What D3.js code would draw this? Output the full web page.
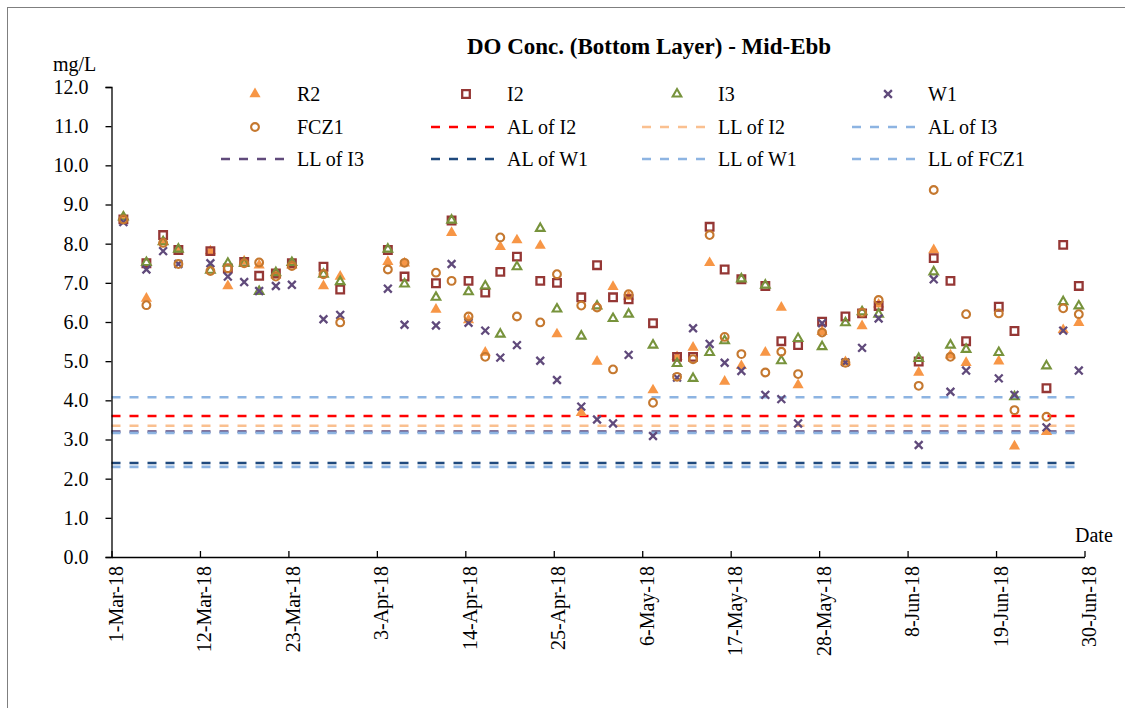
<!DOCTYPE html>
<html>
<head>
<meta charset="utf-8">
<script src="https://cdn.jsdelivr.net/npm/d3@7"></script>
<style>
  body { margin: 0; background: #fff; }
  svg { display: block; }
  text { font-family: "Liberation Serif", "Times New Roman", serif; fill: #000; }
</style>
</head>
<body>
<svg id="chart" width="1125" height="708"></svg>
<script>
// Sampling times (mid-ebb, bottom layer)
const sampleTimes = [
  "2018-03-02 11:30", "2018-03-05 08:10", "2018-03-07 10:05", "2018-03-09 07:40",
  "2018-03-13 07:10", "2018-03-15 11:15", "2018-03-17 12:00", "2018-03-19 08:40",
  "2018-03-21 10:35", "2018-03-23 10:20", "2018-03-27 08:40", "2018-03-29 10:35",
  "2018-04-04 08:50", "2018-04-06 10:35", "2018-04-10 08:25", "2018-04-12 07:00",
  "2018-04-14 09:35", "2018-04-16 11:30", "2018-04-18 08:25", "2018-04-20 10:05",
  "2018-04-23 07:40", "2018-04-25 09:35", "2018-04-28 10:05", "2018-04-30 09:10",
  "2018-05-02 08:50", "2018-05-04 07:25", "2018-05-07 08:10", "2018-05-10 07:55",
  "2018-05-12 07:40", "2018-05-14 09:10", "2018-05-16 06:00", "2018-05-18 07:55",
  "2018-05-21 07:25", "2018-05-23 07:10", "2018-05-25 09:10", "2018-05-28 08:50",
  "2018-05-31 06:30", "2018-06-02 08:10", "2018-06-04 09:35", "2018-06-09 09:10",
  "2018-06-11 06:00", "2018-06-13 07:55", "2018-06-15 06:40", "2018-06-19 08:10",
  "2018-06-21 07:00", "2018-06-25 06:30", "2018-06-27 08:25", "2018-06-29 07:00"
];

// DO concentration (mg/L) per station
const r2 = [8.68, 6.60, 8.05, 7.85, 7.81, 6.92, 7.55, 7.45, 7.20, 7.45, 6.92, 7.16,
  7.54, 7.50, 6.32, 8.28, 6.05, 5.22, 7.92, 8.09, 7.95, 5.69, 3.68, 4.99,
  6.90, 6.65, 4.26, 5.11, 5.35, 7.51, 4.48, 4.88, 5.22, 6.37, 4.39, 5.75,
  4.98, 5.90, 6.45, 4.71, 7.84, 5.15, 4.96, 5.00, 2.83, 3.20, 5.80, 5.98];
const i2 = [8.62, 7.50, 8.22, 7.84, 7.81, 7.37, 7.53, 7.18, 7.24, 7.50, 7.41, 6.83,
  7.84, 7.16, 6.99, 8.59, 7.05, 6.75, 7.28, 7.67, 7.05, 7.00, 6.63, 7.45,
  6.63, 6.58, 5.97, 5.11, 5.11, 8.43, 7.34, 7.09, 6.92, 5.51, 5.41, 6.01,
  6.14, 6.22, 6.41, 4.99, 7.63, 7.05, 5.51, 6.39, 5.77, 4.31, 7.97, 6.92];
const i3 = [8.68, 7.52, 8.05, 7.86, 7.32, 7.50, 7.50, 6.78, 7.26, 7.52, 7.22, 7.03,
  7.86, 6.97, 6.63, 8.60, 6.77, 6.92, 5.69, 7.41, 8.39, 6.33, 5.64, 6.41,
  6.09, 6.20, 5.41, 4.94, 4.56, 5.22, 5.52, 7.10, 6.94, 5.01, 5.58, 5.37,
  5.98, 6.26, 6.20, 5.07, 7.28, 5.41, 5.30, 5.22, 4.09, 4.88, 6.52, 6.41];
const w1 = [8.55, 7.34, 7.81, 7.48, 7.50, 7.16, 7.02, 6.79, 6.92, 6.95, 6.07, 6.18,
  6.85, 5.93, 5.91, 7.48, 5.98, 5.78, 5.09, 5.41, 5.01, 4.52, 3.84, 3.51,
  3.41, 5.16, 3.09, 4.58, 5.84, 5.44, 4.96, 4.75, 4.14, 4.03, 3.41, 5.97,
  4.97, 5.34, 6.09, 2.86, 7.09, 4.22, 4.76, 4.56, 4.14, 3.31, 5.78, 4.76];
const fcz1 = [8.62, 6.43, 8.02, 7.48, 7.30, 7.37, 7.50, 7.52, 7.16, 7.43, 7.22, 5.99,
  7.34, 7.51, 7.26, 7.05, 6.14, 5.11, 8.16, 6.14, 5.99, 7.22, 6.42, 6.37,
  4.79, 6.71, 3.94, 4.60, 5.05, 8.22, 5.62, 5.18, 4.71, 5.24, 4.67, 5.73,
  4.96, 6.24, 6.56, 4.37, 9.37, 5.11, 6.20, 6.22, 3.75, 3.58, 6.35, 6.20];

// Action / limit levels (mg/L)
const limitNames = ["AL of I2", "LL of I2", "AL of I3", "LL of I3", "AL of W1", "LL of W1", "LL of FCZ1"];
const limitValues = [3.6, 3.35, 4.08, 3.2, 2.4, 2.3, 3.17];
const limitSpan = ["2018-03-01 00:00", "2018-06-29 12:00"];

// Axis ticks
const yTickValues = [0, 1, 2, 3, 4, 5, 6, 7, 8, 9, 10, 11, 12];
const xTickDates = ["2018-03-01", "2018-03-12", "2018-03-23", "2018-04-03", "2018-04-14",
  "2018-04-25", "2018-05-06", "2018-05-17", "2018-05-28", "2018-06-08", "2018-06-19", "2018-06-30"];

const titleText = "DO Conc. (Bottom Layer) - Mid-Ebb";

// ---- styles ----
const stationStyle = {
  R2:   { shape: "triFill",   color: "#F79646" },
  I2:   { shape: "square",    color: "#953735" },
  I3:   { shape: "triOpen",   color: "#77933C" },
  W1:   { shape: "cross",     color: "#604A7B" },
  FCZ1: { shape: "circle",    color: "#C5782F" }
};
const limitColor = {
  "AL of I2": "#FF0000", "LL of I2": "#FAC090", "AL of I3": "#8DB4E2",
  "LL of I3": "#604A7B", "AL of W1": "#1F497D", "LL of W1": "#8DB4E2", "LL of FCZ1": "#8DB4E2"
};

const parseTime = d3.timeParse("%Y-%m-%d %H:%M");
const parseDay = d3.timeParse("%Y-%m-%d");

const stations = [
  { name: "R2", values: r2 },
  { name: "I2", values: i2 },
  { name: "I3", values: i3 },
  { name: "W1", values: w1 },
  { name: "FCZ1", values: fcz1 }
];

const svg = d3.select("#chart");
const plot = { left: 111.5, right: 1084.5, top: 87, bottom: 557 };

const x = d3.scaleTime()
  .domain([parseDay("2018-03-01"), parseDay("2018-06-30")])
  .range([plot.left, plot.right]);
const y = d3.scaleLinear().domain([0, 12]).range([plot.bottom, plot.top]);

// outer chart frame
svg.append("rect")
  .attr("x", 7.5).attr("y", 7.5).attr("width", 1130).attr("height", 720)
  .attr("fill", "none").attr("stroke", "#7f7f7f").attr("stroke-width", 1);

// title
svg.append("text")
  .attr("x", 649).attr("y", 54)
  .attr("text-anchor", "middle")
  .attr("font-size", 23).attr("font-weight", "bold")
  .text(titleText);

// unit label & axis name
svg.append("text").attr("x", 53).attr("y", 71).attr("font-size", 20).text("mg/L");
svg.append("text").attr("x", 1075).attr("y", 542).attr("font-size", 20).text("Date");

// limit lines
const dash = "9,9";
const lineGen = d3.line().x(d => x(d.t)).y(d => y(d.v));
limitNames.forEach((name, k) => {
  const pts = limitSpan.map(s => ({ t: parseTime(s), v: limitValues[k] }));
  svg.append("path")
    .attr("d", lineGen(pts))
    .attr("fill", "none")
    .attr("stroke", limitColor[name])
    .attr("stroke-width", 2.6)
    .attr("stroke-dasharray", dash);
});

// marker drawing
function drawMarker(g, shape, color) {
  if (shape === "triFill") {
    g.append("path").attr("d", d3.symbol(d3.symbolTriangle, 54)())
      .attr("fill", color);
  } else if (shape === "triOpen") {
    g.append("path").attr("d", d3.symbol(d3.symbolTriangle, 32)())
      .attr("fill", "none").attr("stroke", color).attr("stroke-width", 2.1);
  } else if (shape === "square") {
    g.append("path").attr("d", d3.symbol(d3.symbolSquare, 58)())
      .attr("fill", "none").attr("stroke", color).attr("stroke-width", 2.3);
  } else if (shape === "circle") {
    g.append("circle").attr("r", 3.9)
      .attr("fill", "none").attr("stroke", color).attr("stroke-width", 2.1);
  } else if (shape === "cross") {
    const s = 3.9;
    g.append("path").attr("d", `M${-s},${-s}L${s},${s}M${-s},${s}L${s},${-s}`)
      .attr("fill", "none").attr("stroke", color).attr("stroke-width", 2.3);
  }
}

// station markers
stations.forEach(st => {
  const sty = stationStyle[st.name];
  const grp = svg.append("g").attr("class", "series-" + st.name);
  st.values.forEach((v, k) => {
    if (v == null) return;
    const g = grp.append("g")
      .attr("transform", `translate(${x(parseTime(sampleTimes[k]))},${y(v)})`);
    drawMarker(g, sty.shape, sty.color);
  });
});

// y axis
const yAxis = svg.append("g")
  .attr("transform", `translate(${plot.left},0)`)
  .call(d3.axisLeft(y).tickValues(yTickValues).tickFormat(d3.format(".1f"))
    .tickSize(6).tickPadding(17));
yAxis.select(".domain").attr("stroke", "#000").attr("stroke-width", 1.3);
yAxis.selectAll(".tick line").attr("stroke", "#000").attr("stroke-width", 1.3);
yAxis.selectAll("text").attr("font-size", 20).attr("font-family", "Liberation Serif");

// x axis
const xAxis = svg.append("g")
  .attr("transform", `translate(0,${plot.bottom})`)
  .call(d3.axisBottom(x).tickValues(xTickDates.map(parseDay))
    .tickFormat(d3.timeFormat("%-d-%b-%y")).tickSize(-6).tickSizeOuter(0));
xAxis.select(".domain").attr("stroke", "#000").attr("stroke-width", 1.3);
xAxis.selectAll(".tick line").attr("stroke", "#000").attr("stroke-width", 1.3);
xAxis.selectAll("text")
  .attr("font-size", 20).attr("font-family", "Liberation Serif")
  .attr("transform", "rotate(-90)")
  .attr("text-anchor", "end")
  .attr("x", -9).attr("y", 4).attr("dy", "0.35em");

// legend
const legendCols = [255, 466, 677, 888];
const legendTextX = [297, 507, 718, 928];
const legendRows = [94, 127, 159];
const legendItems = [
  ...stations.map(s => ({ type: "marker", name: s.name })),
  ...limitNames.map(n => ({ type: "line", name: n }))
];
legendItems.forEach((it, k) => {
  const col = k % 4, row = Math.floor(k / 4);
  const cy = legendRows[row];
  if (it.type === "marker") {
    const sty = stationStyle[it.name];
    const g = svg.append("g").attr("transform", `translate(${legendCols[col]},${cy})`);
    drawMarker(g, sty.shape, sty.color);
  } else {
    svg.append("line")
      .attr("x1", legendTextX[col] - 76).attr("x2", legendTextX[col] - 10)
      .attr("y1", cy).attr("y2", cy)
      .attr("stroke", limitColor[it.name]).attr("stroke-width", 2.6)
      .attr("stroke-dasharray", dash);
  }
  svg.append("text")
    .attr("x", legendTextX[col]).attr("y", cy + 6.5)
    .attr("font-size", 20)
    .text(it.name);
});
</script>
</body>
</html>
